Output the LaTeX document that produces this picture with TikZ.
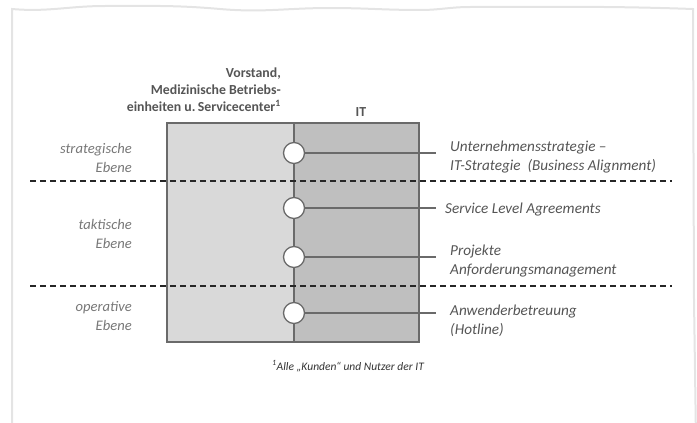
\documentclass[tikz,border=0pt]{standalone}
\usepackage{fontspec}
\setmainfont{Carlito}
\definecolor{framegray}{HTML}{E4E4E4}
\definecolor{leftgray}{HTML}{D9D9D9}
\definecolor{itgray}{HTML}{BFBFBF}
\definecolor{edgegray}{HTML}{6A6A6A}
\definecolor{labelgray}{HTML}{777777}
\definecolor{textgray}{HTML}{555555}
\begin{document}
\begin{tikzpicture}[x=1pt,y=-1pt]
\tikzset{frame line/.style = {draw=framegray, line width=2pt},
  box edge/.style = {draw=edgegray, line width=1.3pt},
  level line/.style = {draw=black!85, line width=1.4pt, dash pattern=on 6pt off 4pt},
  level circle/.style = {circle, draw=edgegray, fill=white, line width=1.3pt,
    minimum size=21pt, inner sep=0pt},
  level label/.style = {font=\fontsize{14.6}{18.5}\selectfont\itshape, text=labelgray,
    align=right, anchor=east, inner sep=0pt},
  task label/.style = {font=\fontsize{15.2}{19}\selectfont\itshape, text=textgray,
    align=left, anchor=west, inner sep=0pt},
  head label/.style = {font=\fontsize{13.8}{17}\selectfont\bfseries, text=textgray,
    inner sep=0pt}}
\useasboundingbox (0,0) rectangle (697,423);
% Rahmen
\draw[frame line] (12,440) -- (12,9) to[out=-5,in=180] (105,6)
  to[out=0,in=175] (220,9) to[out=-5,in=180] (330,8) to[out=0,in=180] (420,10)
  to[out=0,in=180] (470,7) to[out=0,in=178] (693,9) -- (694,300) -- (696,440);
% Kasten
\draw[box edge, fill=leftgray] (167,123) rectangle (294,342);
\draw[box edge, fill=itgray] (294,123) rectangle (419,342);
% Ebenen
\coordinate (s1) at (30,181);
\coordinate (t1) at (672,181);
\coordinate (s2) at (30,286);
\coordinate (t2) at (672,286);
\draw[level line] (s1) -- (t1);
\draw[level line] (s2) -- (t2);
% Schnittstellen
\foreach \y/\n in {153/a,208/b,257/c,313/d}{
  \node[level circle] (c\n) at (294,\y) {};
  \coordinate (e\n) at (436,\y);
  \draw[box edge] (c\n.east) -- (e\n);
}
\node[head label, align=right, anchor=north east] (kunden) at (281,68)
  {Vorstand,\\Medizinische Betriebs-\\einheiten u.\,Servicecenter\textsuperscript{1}};
\node[head label] (it) at (361,112) {IT};
\node[level label] (strat) at (132,158) {strategische\\Ebene};
\node[level label] (takt) at (132,234) {taktische\\Ebene};
\node[level label] (oper) at (132,316) {operative\\Ebene};
\node[task label] (ta) at (450,157) {Unternehmensstrategie –\\IT-Strategie\ \ (Business Alignment)};
\node[task label] (tb) at (445,210) {Service Level Agreements};
\node[task label] (tc) at (450,261) {Projekte\\Anforderungsmanagement};
\node[task label] (td) at (450,321) {Anwenderbetreuung\\(Hotline)};
\node[font=\fontsize{11.5}{13}\selectfont\itshape, text=black!80, inner sep=0pt] (fn)
  at (348,366) {\textsuperscript{1}Alle „Kunden“ und Nutzer der IT};
\end{tikzpicture}
\end{document}
